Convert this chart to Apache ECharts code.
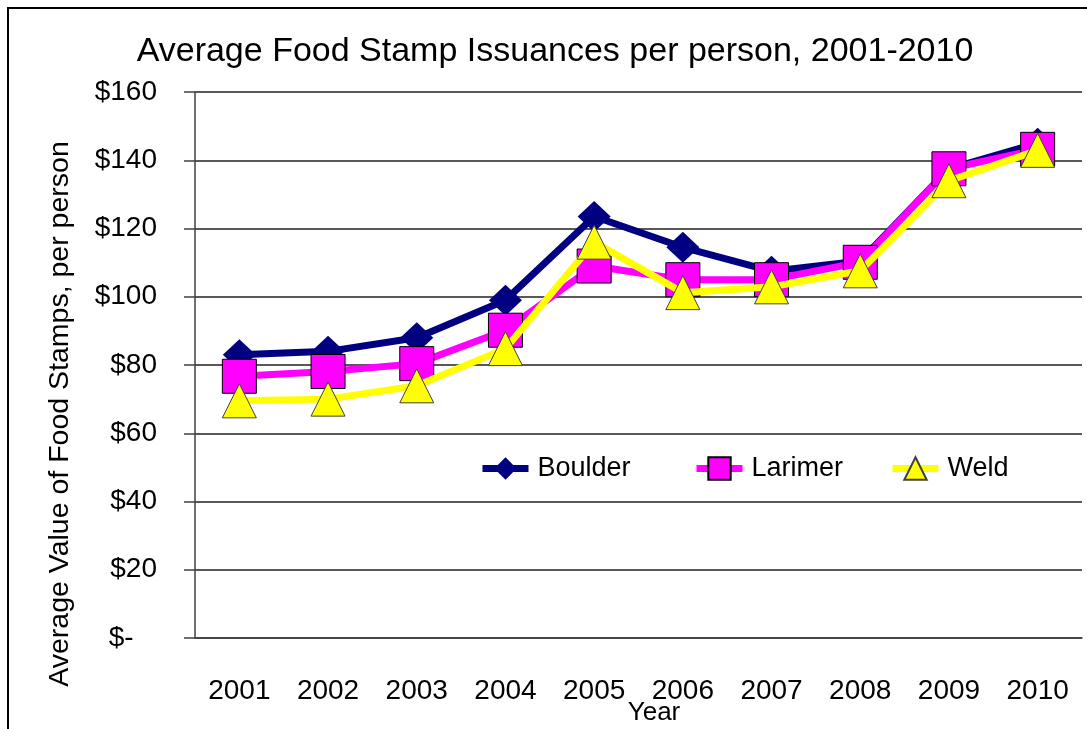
<!DOCTYPE html>
<html>
<head>
<meta charset="utf-8">
<script src="https://cdn.jsdelivr.net/npm/echarts@6/dist/echarts.min.js"></script>
<style>
  html, body { margin: 0; padding: 0; background: #fff; }
  #chart { width: 1087px; height: 729px; }
</style>
</head>
<body>
<div id="chart"></div>
<script>
const years = ['2001', '2002', '2003', '2004', '2005', '2006', '2007', '2008', '2009', '2010']
const boulder = [83, 84, 88, 99, 123.5, 114.5, 107.5, 110.5, 137.5, 145]
const larimer = [76.7, 78.1, 80.4, 90.2, 109, 105, 105, 110.1, 137.5, 143.2]
const weld = [69.5, 70, 73.9, 84.8, 116, 101.2, 102.9, 107.6, 134, 142.9]

const FONT = "'Liberation Sans', Arial, sans-serif"

const el = document.getElementById('chart')
const chart = echarts.init(el, null, { renderer: 'canvas' })

const legendBase = {
  top: 450,
  itemWidth: 46,
  itemHeight: 28,
  itemGap: 0,
  lineStyle: { width: 7 },
  textStyle: { fontFamily: FONT, fontSize: 27, color: '#000', padding: [0, 0, 0, 4] },
}

chart.setOption({
  animation: false,
  backgroundColor: '#fff',
  grid: { left: 195, right: 5, top: 92, height: 546, outerBoundsMode: 'none' },
  graphic: [
    {
      type: 'rect',
      shape: { x: 8, y: 8, width: 1100, height: 800 },
      style: { fill: 'none', stroke: '#000', lineWidth: 2 },
    },
    {
      type: 'text',
      x: 555,
      y: 52,
      style: {
        text: 'Average Food Stamp Issuances per person, 2001-2010',
        fontFamily: FONT,
        fontSize: 34,
        fill: '#000',
        align: 'center',
        verticalAlign: 'middle',
      },
    },
    {
      type: 'text',
      x: 60,
      y: 414,
      rotation: Math.PI / 2,
      style: {
        text: 'Average Value of Food Stamps, per person',
        fontFamily: FONT,
        fontSize: 28.5,
        fill: '#000',
        align: 'center',
        verticalAlign: 'middle',
      },
    },
    {
      type: 'text',
      x: 654,
      y: 713,
      style: {
        text: 'Year',
        fontFamily: FONT,
        fontSize: 26,
        fill: '#000',
        align: 'center',
        verticalAlign: 'middle',
      },
    },
  ],
  legend: [
    Object.assign({ left: 474, data: ['Boulder'] }, legendBase),
    Object.assign({ left: 688, data: ['Larimer'] }, legendBase),
    Object.assign({ left: 884, data: ['Weld'] }, legendBase),
  ],
  xAxis: {
    type: 'category',
    data: years,
    boundaryGap: true,
    axisLine: { lineStyle: { color: '#404040', width: 1.5 } },
    axisTick: { length: 11, lineStyle: { color: '#404040', width: 1.5 } },
    axisLabel: { fontFamily: FONT, fontSize: 28, color: '#000', margin: 39 },
  },
  yAxis: {
    type: 'value',
    min: 0,
    max: 160,
    interval: 20,
    axisLine: { show: true, lineStyle: { color: '#404040', width: 1.5 } },
    axisTick: { show: true, length: 11, lineStyle: { color: '#404040', width: 1.5 } },
    splitLine: { lineStyle: { color: '#202020', width: 1.5 } },
    axisLabel: {
      fontFamily: FONT,
      fontSize: 28,
      color: '#000',
      margin: 38,
      formatter: v => (v === 0 ? '$-   ' : '$' + v),
    },
  },
  series: [
    {
      name: 'Boulder',
      type: 'line',
      z: 2,
      data: boulder,
      symbol: 'diamond',
      symbolSize: [33, 31],
      lineStyle: { color: '#000080', width: 7 },
      itemStyle: { color: '#000080', borderWidth: 0 },
    },
    {
      name: 'Larimer',
      type: 'line',
      z: 3,
      data: larimer,
      symbol: 'rect',
      symbolSize: 34,
      lineStyle: { color: '#ff00ff', width: 7 },
      itemStyle: { color: '#ff00ff', borderColor: '#000', borderWidth: 1 },
    },
    {
      name: 'Weld',
      type: 'line',
      z: 4,
      data: weld,
      symbol: 'triangle',
      symbolSize: 34,
      lineStyle: { color: '#ffff00', width: 7 },
      itemStyle: { color: '#ffff00', borderColor: '#404040', borderWidth: 1 },
    },
  ],
})
</script>
</body>
</html>
